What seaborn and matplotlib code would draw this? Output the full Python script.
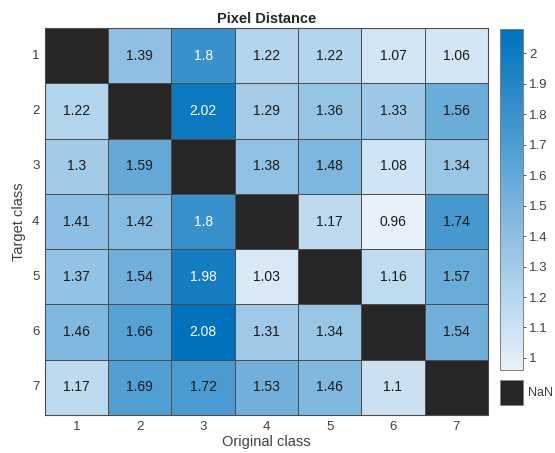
import numpy as np
import pandas as pd
import matplotlib
matplotlib.use("Agg")
import matplotlib.pyplot as plt
from matplotlib.colors import LinearSegmentedColormap
from matplotlib.patches import Rectangle
import seaborn as sns

# Pixel distance between original and target classes (diagonal is NaN)
classes = ["1", "2", "3", "4", "5", "6", "7"]
row1 = [np.nan, 1.39, 1.80, 1.22, 1.22, 1.07, 1.06]
row2 = [1.22, np.nan, 2.02, 1.29, 1.36, 1.33, 1.56]
row3 = [1.30, 1.59, np.nan, 1.38, 1.48, 1.08, 1.34]
row4 = [1.41, 1.42, 1.80, np.nan, 1.17, 0.96, 1.74]
row5 = [1.37, 1.54, 1.98, 1.03, np.nan, 1.16, 1.57]
row6 = [1.46, 1.66, 2.08, 1.31, 1.34, np.nan, 1.54]
row7 = [1.17, 1.69, 1.72, 1.53, 1.46, 1.10, np.nan]
cbar_ticks = [1, 1.1, 1.2, 1.3, 1.4, 1.5, 1.6, 1.7, 1.8, 1.9, 2]

df = pd.DataFrame([row1, row2, row3, row4, row5, row6, row7],
                  index=classes, columns=classes)

sns.set_style("white")
plt.rcParams['font.family'] = ['Liberation Sans', 'DejaVu Sans']

cmap = LinearSegmentedColormap.from_list("mblue", ["#e8f1fa", "#0072bd"])
cmap.set_bad("#262626")

fig = plt.figure(figsize=(5.55, 4.53), dpi=100)
ax = fig.add_axes([0.081, 0.084, 0.798, 0.854])
cax = fig.add_axes([0.901, 0.183, 0.041, 0.753])

vmin, vmax = df.min().min(), df.max().max()
sns.heatmap(df, ax=ax, cbar_ax=cax, cmap=cmap, vmin=vmin, vmax=vmax,
            linewidths=0.6, linecolor="#4d4d4d", annot=False,
            cbar_kws={"ticks": cbar_ticks, "format": "%g"})

# cell labels, white on the darkest cells
for i, r in enumerate(classes):
    for j, c in enumerate(classes):
        v = df.loc[r, c]
        if np.isnan(v):
            continue
        col = "white" if v >= 1.77 else "#1a1a1a"
        ax.text(j + 0.5, i + 0.5, f"{v:g}", ha="center", va="center",
                fontsize=10, color=col)

for s in ax.spines.values():
    s.set_visible(True)
    s.set_color("#4d4d4d")
    s.set_linewidth(0.8)

ax.set_title("Pixel Distance", fontsize=10.5, fontweight="bold", pad=4)
ax.set_xlabel("Original class", fontsize=10.5, color="#404040", labelpad=2)
ax.set_ylabel("Target class", fontsize=10.5, color="#404040", labelpad=4)
ax.tick_params(axis="both", length=0, labelsize=9.5, colors="#404040", pad=4)
ax.set_yticklabels(classes, rotation=0)
ax.set_xticklabels(classes, rotation=0)

cax.tick_params(labelsize=9.5, colors="#404040", length=2.5, direction="out",
                width=0.6, pad=2)
for s in cax.spines.values():
    s.set_visible(True)
    s.set_color("#808080")
    s.set_linewidth(0.6)

# NaN legend box under the colorbar
fig.patches.append(Rectangle((0.901, 0.106), 0.041, 0.055, transform=fig.transFigure,
                             facecolor="#262626", edgecolor="#808080", lw=0.6))
fig.text(0.952, 0.133, "NaN", fontsize=9, color="#404040", va="center", ha="left")

fig.savefig("out.png", dpi=100)
